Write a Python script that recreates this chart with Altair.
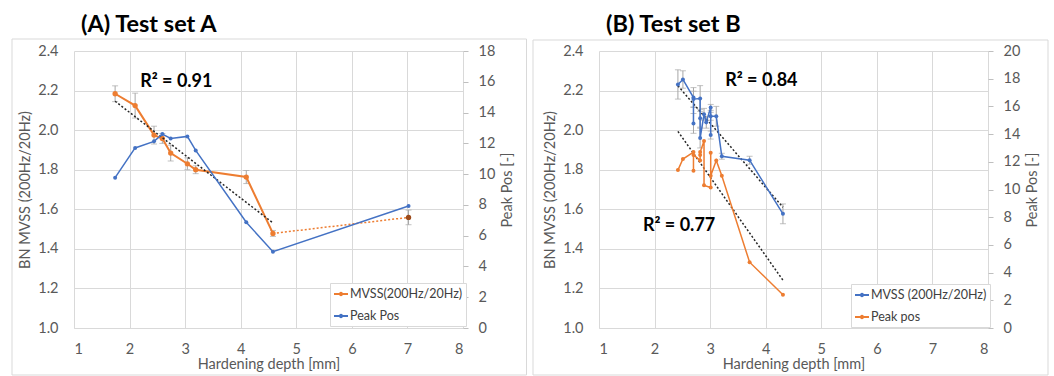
import altair as alt
import pandas as pd

ORANGE = "#ED7D31"
BLUE = "#4472C4"
BROWN = "#9C4A1A"
GRID = "#D9D9D9"
TXT = "#595959"
ERR = "#A6A6A6"
FONT = "Lato"

TITLES = ["(A) Test set A", "(B) Test set B"]
X_TITLE = "Hardening depth [mm]"
YL_TITLE = "BN MVSS (200Hz/20Hz)"
YR_TITLE = "Peak Pos [-]"
X_TICKS = [1, 2, 3, 4, 5, 6, 7, 8]
YL_TICKS = [1.0, 1.2, 1.4, 1.6, 1.8, 2.0, 2.2, 2.4]
YR_TICKS_A = [0, 2, 4, 6, 8, 10, 12, 14, 16, 18]
YR_TICKS_B = [0, 2, 4, 6, 8, 10, 12, 14, 16, 18, 20]

# ---------------- Panel A ----------------
A_SERIES = ["MVSS(200Hz/20Hz)", "Peak Pos"]
A_COLORS = [ORANGE, BLUE]
A_DEPTH = [1.74, 2.10, 2.44, 2.59, 2.74, 3.04, 3.19, 4.10, 4.58]
A_MVSS = [2.184, 2.124, 1.975, 1.958, 1.884, 1.83, 1.80, 1.763, 1.478]
A_MVSS_ERR = [0.04, 0.063, 0.045, 0.025, 0.04, 0.03, 0.02, 0.033, 0.015]
A_OUT_DEPTH = [4.58, 7.02]
A_OUT_MVSS = [1.478, 1.559]
A_OUT_ERR = [0.015, 0.037]
A_PEAK_DEPTH = [1.74, 2.10, 2.44, 2.59, 2.74, 3.04, 3.19, 4.10, 4.58, 7.02]
A_PEAK = [9.77, 11.70, 12.13, 12.6, 12.32, 12.45, 11.54, 6.87, 4.96, 7.93]
A_FIT_DEPTH = [1.74, 4.58]
A_FIT_MVSS = [2.146, 1.531]
A_R2_TEXT = ["R² = 0.91"]
A_R2_DEPTH = [2.19]
A_R2_MVSS = [2.242]

# ---------------- Panel B ----------------
B_SERIES = ["MVSS (200Hz/20Hz)", "Peak pos"]
B_COLORS = [BLUE, ORANGE]
B_MVSS_DEPTH = [2.42, 2.51, 2.70, 2.70, 2.70, 2.82, 2.82, 2.82, 2.89, 2.93, 3.01, 3.01, 3.01, 3.11, 3.21, 3.71, 4.31]
B_MVSS = [2.231, 2.256, 2.165, 2.034, 2.157, 2.16, 2.06, 1.96, 2.08, 2.04, 2.115, 1.975, 2.07, 2.07, 1.868, 1.848, 1.577]
B_MVSS_ERR = [0.074, 0.044, 0.05, 0.05, 0.04, 0.065, 0.045, 0.05, 0.03, 0.03, 0.015, 0.02, 0.02, 0.05, 0.015, 0.02, 0.05]
B_PEAK_DEPTH = [2.42, 2.51, 2.70, 2.70, 2.70, 2.82, 2.82, 2.82, 2.89, 2.89, 3.01, 3.01, 3.01, 3.11, 3.21, 3.71, 4.31]
B_PEAK = [11.4, 12.2, 12.7, 11.35, 12.5, 12.1, 12.5, 12.7, 13.5, 10.3, 10.15, 12.65, 11.0, 12.1, 11.0, 4.75, 2.4]
B_FIT_DEPTH = [2.42, 4.31]
B_FIT_MVSS = [2.224, 1.61]
B_FIT_PEAK = [14.2, 3.45]
B_R2_TEXT = ["R² = 0.84", "R² = 0.77"]
B_R2_DEPTH = [3.27, 1.79]
B_R2_MVSS = [2.25, 1.514]

# legend symbol: short line with a small dot in the middle (Excel style)
LEGEND_SYMBOL = "M-1,0H1M-0.18,0A0.18,0.18,0,1,1,0.18,0A0.18,0.18,0,1,1,-0.18,0Z"


def x_enc():
    return alt.X(
        "depth:Q",
        scale=alt.Scale(domain=[1, 8], nice=False, zero=False),
        axis=alt.Axis(
            values=X_TICKS, title=X_TITLE, grid=True, gridColor=GRID,
            domainColor=GRID, ticks=False, labelPadding=14, titlePadding=2,
            labelFontSize=14.5, labelColor=TXT, titleFontSize=14.5,
            titleFontWeight="normal", titleColor=TXT, labelFont=FONT, titleFont=FONT,
        ),
    )


def yl_axis():
    return alt.Axis(
        values=YL_TICKS, format=".1f", title=YL_TITLE, grid=True, gridColor=GRID,
        domain=False, ticks=False, labelPadding=16, titlePadding=5,
        labelFontSize=14.5, labelColor=TXT, titleFontSize=14.5,
        titleFontWeight="normal", titleColor=TXT, orient="left",
        labelFont=FONT, titleFont=FONT,
    )


def yr_axis(ticks):
    return alt.Axis(
        values=ticks, title=YR_TITLE, grid=False, domain=False, ticks=True,
        tickColor="#BFBFBF", tickSize=5, labelPadding=10, titlePadding=6,
        labelFontSize=14.5, labelColor=TXT, titleFontSize=14.5, titleAngle=270,
        titleBaseline="top",
        titleFontWeight="normal", titleColor=TXT, orient="right",
        labelFont=FONT, titleFont=FONT,
    )


def yl(field):
    return alt.Y(field, scale=alt.Scale(domain=[1.0, 2.4], nice=False, zero=False), axis=yl_axis())


def yr(field, top, ticks):
    return alt.Y(field, scale=alt.Scale(domain=[0, top], nice=False, zero=False), axis=yr_axis(ticks))


def color_enc(series, colors, lx, ly):
    return alt.Color(
        "series:N",
        scale=alt.Scale(domain=series, range=colors),
        legend=alt.Legend(
            orient="none", legendX=lx, legendY=ly, title=None,
            strokeColor=GRID, fillColor="white", padding=3,
            symbolType=LEGEND_SYMBOL, symbolSize=196, symbolStrokeWidth=1.8,
            labelFontSize=12.5, labelColor="#404040", labelFont=FONT,
            rowPadding=7, labelOffset=1,
        ),
    )


def decor(title, bx1, bx2, fx1, fx2, fy1, fy2):
    one = pd.DataFrame({"t": [title]})
    bg = alt.Chart(one).mark_rect(fillOpacity=0, strokeOpacity=0).encode(
        x=alt.value(bx1), x2=alt.value(bx2), y=alt.value(-51), y2=alt.value(325)
    )
    frame = alt.Chart(one).mark_rect(fillOpacity=0, stroke=GRID, strokeWidth=1).encode(
        x=alt.value(fx1), x2=alt.value(fx2), y=alt.value(fy1), y2=alt.value(fy2)
    )
    ttl = alt.Chart(one).mark_text(
        align="left", baseline="alphabetic", fontSize=23.5, fontWeight="bold",
        font=FONT, color="black"
    ).encode(x=alt.value(7), y=alt.value(-19), text="t:N")
    return [bg, frame, ttl]


def err_layers(df, color=ERR):
    rule = alt.Chart(df).mark_rule(color=color, strokeWidth=1).encode(
        x=x_enc(), y=yl("lo:Q"), y2="hi:Q"
    )
    lo = alt.Chart(df).mark_tick(color=color, orient="horizontal", size=6, thickness=1).encode(
        x=x_enc(), y=yl("lo:Q")
    )
    hi = alt.Chart(df).mark_tick(color=color, orient="horizontal", size=6, thickness=1).encode(
        x=x_enc(), y=yl("hi:Q")
    )
    return [rule, lo, hi]


def r2_layer(texts, xs, ys):
    df = pd.DataFrame({"depth": xs, "val": ys, "t": texts})
    return alt.Chart(df).mark_text(
        align="left", baseline="middle", fontSize=18, fontWeight="bold",
        font=FONT, color="black"
    ).encode(x=x_enc(), y=yl("val:Q"), text="t:N")


# ---------- build panel A ----------
dfa = pd.DataFrame({
    "depth": A_DEPTH, "val": A_MVSS,
    "lo": [v - e for v, e in zip(A_MVSS, A_MVSS_ERR)],
    "hi": [v + e for v, e in zip(A_MVSS, A_MVSS_ERR)],
    "series": A_SERIES[0], "idx": list(range(len(A_DEPTH))),
})
dfa_out = pd.DataFrame({
    "depth": A_OUT_DEPTH, "val": A_OUT_MVSS,
    "lo": [v - e for v, e in zip(A_OUT_MVSS, A_OUT_ERR)],
    "hi": [v + e for v, e in zip(A_OUT_MVSS, A_OUT_ERR)],
})
dfa_fit = pd.DataFrame({"depth": A_FIT_DEPTH, "val": A_FIT_MVSS})
dfa_pk = pd.DataFrame({
    "depth": A_PEAK_DEPTH, "peak": A_PEAK, "series": A_SERIES[1],
    "idx": list(range(len(A_PEAK_DEPTH))),
})

a_left = alt.layer(
    *err_layers(dfa),
    *err_layers(dfa_out.iloc[[1]]),
    alt.Chart(dfa_out).mark_line(color=ORANGE, strokeWidth=1.5, strokeDash=[2, 2]).encode(
        x=x_enc(), y=yl("val:Q")
    ),
    alt.Chart(dfa).mark_line(strokeWidth=2).encode(
        x=x_enc(), y=yl("val:Q"), order="idx:Q",
        color=color_enc(A_SERIES, A_COLORS, 256, 232),
    ),
    alt.Chart(dfa).mark_circle(color=ORANGE, size=28, opacity=1).encode(x=x_enc(), y=yl("val:Q")),
    alt.Chart(dfa_out.iloc[[1]]).mark_circle(color=BROWN, size=28, opacity=1).encode(x=x_enc(), y=yl("val:Q")),
    alt.Chart(dfa_fit).mark_line(color="#262626", strokeWidth=1.5, strokeDash=[2, 2]).encode(
        x=x_enc(), y=yl("val:Q")
    ),
    r2_layer(A_R2_TEXT, A_R2_DEPTH, A_R2_MVSS),
)
a_right = alt.layer(
    alt.Chart(dfa_pk).mark_line(strokeWidth=1.5).encode(
        x=x_enc(), y=yr("peak:Q", 18, YR_TICKS_A), order="idx:Q",
        color=color_enc(A_SERIES, A_COLORS, 256, 232),
    ),
    alt.Chart(dfa_pk).mark_circle(color=BLUE, size=16, opacity=1).encode(
        x=x_enc(), y=yr("peak:Q", 18, YR_TICKS_A)
    ),
)
panel_a = alt.layer(
    *decor(TITLES[0], -74, 453, -62, 452.5, -12, 324), a_left, a_right
).resolve_scale(y="independent").properties(width=389, height=277)

# ---------- build panel B ----------
dfb = pd.DataFrame({
    "depth": B_MVSS_DEPTH, "val": B_MVSS,
    "lo": [v - e for v, e in zip(B_MVSS, B_MVSS_ERR)],
    "hi": [v + e for v, e in zip(B_MVSS, B_MVSS_ERR)],
    "series": B_SERIES[0], "idx": list(range(len(B_MVSS))),
})
dfb_fit = pd.DataFrame({"depth": B_FIT_DEPTH, "val": B_FIT_MVSS, "peak": B_FIT_PEAK})
dfb_pk = pd.DataFrame({
    "depth": B_PEAK_DEPTH, "peak": B_PEAK, "series": B_SERIES[1],
    "idx": list(range(len(B_PEAK))),
})

b_left = alt.layer(
    *err_layers(dfb),
    alt.Chart(dfb_fit).mark_line(color="#262626", strokeWidth=1.5, strokeDash=[2, 2]).encode(
        x=x_enc(), y=yl("val:Q")
    ),
    alt.Chart(dfb).mark_line(strokeWidth=1.5).encode(
        x=x_enc(), y=yl("val:Q"), order="idx:Q",
        color=color_enc(B_SERIES, B_COLORS, 252, 233),
    ),
    alt.Chart(dfb).mark_circle(color=BLUE, size=16, opacity=1).encode(x=x_enc(), y=yl("val:Q")),
    r2_layer(B_R2_TEXT, B_R2_DEPTH, B_R2_MVSS),
)
b_right = alt.layer(
    alt.Chart(dfb_fit).mark_line(color="#262626", strokeWidth=1.5, strokeDash=[2, 2]).encode(
        x=x_enc(), y=yr("peak:Q", 20, YR_TICKS_B)
    ),
    alt.Chart(dfb_pk).mark_line(strokeWidth=1.5).encode(
        x=x_enc(), y=yr("peak:Q", 20, YR_TICKS_B), order="idx:Q",
        color=color_enc(B_SERIES, B_COLORS, 252, 233),
    ),
    alt.Chart(dfb_pk).mark_circle(color=ORANGE, size=16, opacity=1).encode(
        x=x_enc(), y=yr("peak:Q", 20, YR_TICKS_B)
    ),
)
panel_b = alt.layer(
    *decor(TITLES[1], -72, 455, -66, 449, -11, 324), b_left, b_right
).resolve_scale(y="independent").properties(width=389, height=277)

chart = alt.hconcat(panel_a, panel_b, spacing=0).resolve_scale(color="independent").properties(
    padding=0
).configure(background="white", font=FONT).configure_view(strokeWidth=0)

chart.save("out.html", embed_options={"renderer": "svg", "actions": False})
